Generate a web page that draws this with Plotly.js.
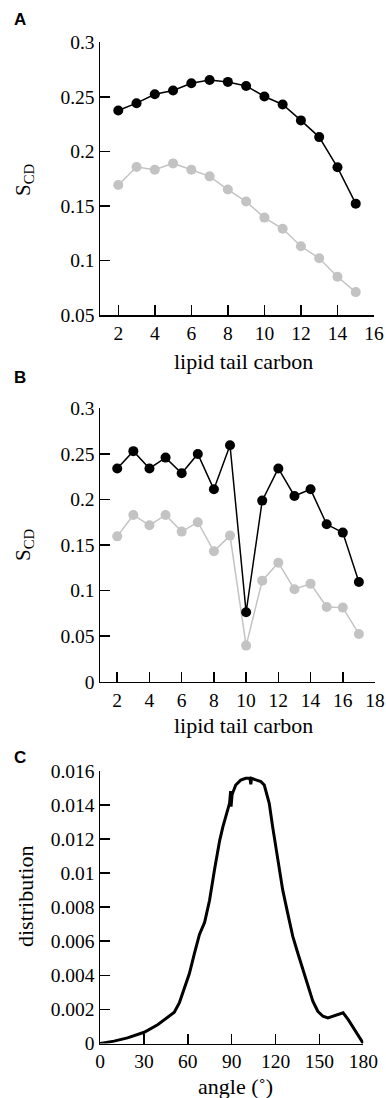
<!DOCTYPE html>
<html>
<head>
<meta charset="utf-8">
<script src="https://cdn.plot.ly/plotly-3.0.1.min.js"></script>
<style>
  html, body { margin: 0; padding: 0; background: #fff; }
  #chart { width: 386px; height: 1098px; }
</style>
</head>
<body>
<div id="chart"></div>
<script>
// ---------- data ----------
const carbonsA = [2, 3, 4, 5, 6, 7, 8, 9, 10, 11, 12, 13, 14, 15];
const scdA_black = [0.2375, 0.2442, 0.2524, 0.2558, 0.2625, 0.2655, 0.2637, 0.2600, 0.2503, 0.2430, 0.2284, 0.2131, 0.1854, 0.1521];
const scdA_gray  = [0.1692, 0.1857, 0.1832, 0.1890, 0.1832, 0.1771, 0.1650, 0.1540, 0.1393, 0.1290, 0.1130, 0.1020, 0.0850, 0.0710];

const carbonsB = [2, 3, 4, 5, 6, 7, 8, 9, 10, 11, 12, 13, 14, 15, 16, 17];
const scdB_black = [0.2340, 0.2530, 0.2340, 0.2459, 0.2287, 0.2499, 0.2111, 0.2594, 0.0762, 0.1987, 0.2340, 0.2038, 0.2111, 0.1727, 0.1636, 0.1094];
const scdB_gray  = [0.1595, 0.1830, 0.1716, 0.1830, 0.1647, 0.1750, 0.1431, 0.1603, 0.0396, 0.1109, 0.1306, 0.1014, 0.1076, 0.0820, 0.0813, 0.0524];

const angleC = [0, 9.6, 18.8, 30.2, 39.4, 45.1, 50.8, 54.3, 57.7, 61.1, 64.6, 68, 71.5, 74.9, 78.3, 81.8, 84, 86.3, 88.6, 89.3, 89.6, 90.3, 92.8, 96.2, 99.6, 102.5, 103.1, 103.6, 106.5, 110, 112.3, 115.7, 118, 120.3, 122.6, 124.9, 128.3, 131.8, 135.2, 138.6, 142, 145.5, 148.9, 152.4, 155.8, 159.3, 162.7, 166.2, 169.7, 173.1, 176.6, 180];
const distC  = [0, 0.00014, 0.00033, 0.00066, 0.0011, 0.00144, 0.00183, 0.0024, 0.0032, 0.0041, 0.0053, 0.0064, 0.0071, 0.0084, 0.0102, 0.0119, 0.0127, 0.0134, 0.0141, 0.0148, 0.0139, 0.0146, 0.01516, 0.01545, 0.01555, 0.01555, 0.0152, 0.01555, 0.01545, 0.01536, 0.01516, 0.01409, 0.01272, 0.01155, 0.01038, 0.00901, 0.00765, 0.00628, 0.00531, 0.00433, 0.00336, 0.00248, 0.00189, 0.0016, 0.0015, 0.0016, 0.00166, 0.0018, 0.0014, 0.00092, 0.00043, 0];

const ytickA = [0.05, 0.1, 0.15, 0.2, 0.25, 0.3];
const ytickA_text = ["0.05", "0.1", "0.15", "0.2", "0.25", "0.3"];
const ytickB = [0, 0.05, 0.1, 0.15, 0.2, 0.25, 0.3];
const ytickB_text = ["0", "0.05", "0.1", "0.15", "0.2", "0.25", "0.3"];
const ytickC = [0, 0.002, 0.004, 0.006, 0.008, 0.01, 0.012, 0.014, 0.016];
const ytickC_text = ["0", "0.002", "0.004", "0.006", "0.008", "0.01", "0.012", "0.014", "0.016"];
const xtickA = [2, 4, 6, 8, 10, 12, 14, 16];
const xtickB = [2, 4, 6, 8, 10, 12, 14, 16, 18];
const xtickC = [0, 30, 60, 90, 120, 150, 180];

const panelLabels = ["A", "B", "C"];
const xTitleAB = "lipid tail carbon";
const xTitleC = "angle (˚)";
const yTitleAB = "S<sub>CD</sub>";
const yTitleC = "distribution";

// ---------- layout helpers ----------
const W = 386, H = 1098;
const px = v => v / W;
const py = v => 1 - v / H;
const SERIF = "Liberation Serif";
const SANS = "Liberation Sans";
const tickFont = { family: SERIF, size: 19.5, color: "#000" };
const titleFont = { family: SERIF, size: 22, color: "#000" };

function axisBase() {
  return {
    showline: true, linecolor: "#000", linewidth: 1.5,
    ticks: "inside", ticklen: 10, tickwidth: 1.5, tickcolor: "#000",
    showgrid: false, zeroline: false, tickfont: tickFont,
    tickmode: "array", fixedrange: true
  };
}

const blackLine = { color: "#000", width: 1.5 };
const grayLine = { color: "#c3c3c3", width: 1.5 };
const blackMk = { color: "#000", size: 10 };
const grayMk = { color: "#c3c3c3", size: 10 };

const traces = [
  { x: carbonsA, y: scdA_gray, mode: "lines+markers", line: grayLine, marker: grayMk, xaxis: "x", yaxis: "y" },
  { x: carbonsA, y: scdA_black, mode: "lines+markers", line: blackLine, marker: blackMk, xaxis: "x", yaxis: "y" },
  { x: carbonsB, y: scdB_gray, mode: "lines+markers", line: grayLine, marker: grayMk, xaxis: "x2", yaxis: "y2" },
  { x: carbonsB, y: scdB_black, mode: "lines+markers", line: blackLine, marker: blackMk, xaxis: "x2", yaxis: "y2" },
  { x: angleC, y: distC, mode: "lines", line: { color: "#000", width: 3 }, xaxis: "x3", yaxis: "y3" }
];

const layout = {
  width: W, height: H,
  margin: { l: 0, r: 0, t: 0, b: 0 },
  paper_bgcolor: "#fff", plot_bgcolor: "#fff",
  showlegend: false,
  font: { family: SERIF, color: "#000" },
  xaxis: Object.assign(axisBase(), { domain: [px(100), px(374)], range: [1, 16], tickvals: xtickA, anchor: "y" }),
  yaxis: Object.assign(axisBase(), { domain: [py(315), py(42.3)], range: [0.05, 0.3], tickvals: ytickA, ticktext: ytickA_text, anchor: "x" }),
  xaxis2: Object.assign(axisBase(), { domain: [px(100), px(375)], range: [0.93, 18], tickvals: xtickB, anchor: "y2" }),
  yaxis2: Object.assign(axisBase(), { domain: [py(681.7), py(408.3)], range: [0, 0.3], tickvals: ytickB, ticktext: ytickB_text, anchor: "x2" }),
  xaxis3: Object.assign(axisBase(), { domain: [px(100), px(363.3)], range: [0, 180], tickvals: xtickC, anchor: "y3" }),
  yaxis3: Object.assign(axisBase(), { domain: [py(1043.5), py(770.7)], range: [0, 0.016], tickvals: ytickC, ticktext: ytickC_text, anchor: "x3" }),
  annotations: [
    { text: "<b>" + panelLabels[0] + "</b>", x: px(20), y: py(20) },
    { text: "<b>" + panelLabels[1] + "</b>", x: px(20), y: py(377) },
    { text: "<b>" + panelLabels[2] + "</b>", x: px(20), y: py(757) }
  ].map(a => Object.assign(a, { xref: "paper", yref: "paper", showarrow: false, xanchor: "center", yanchor: "middle",
      font: { family: SANS, size: 17, color: "#000" } }))
  .concat([
    { text: xTitleAB, x: px(243), y: py(361) },
    { text: xTitleAB, x: px(243), y: py(725) },
    { text: xTitleC, x: px(236), y: py(1086.7) },
    { text: yTitleAB, x: px(24), y: py(180), textangle: -90, font: { family: SERIF, size: 21, color: "#000" } },
    { text: yTitleAB, x: px(24), y: py(545), textangle: -90, font: { family: SERIF, size: 21, color: "#000" } },
    { text: yTitleC, x: px(25), y: py(896), textangle: -90 }
  ].map(a => Object.assign({ font: titleFont }, a, { xref: "paper", yref: "paper", showarrow: false, xanchor: "center", yanchor: "middle" })))
};

Plotly.newPlot("chart", traces, layout, { displayModeBar: false, staticPlot: true });
</script>
</body>
</html>
